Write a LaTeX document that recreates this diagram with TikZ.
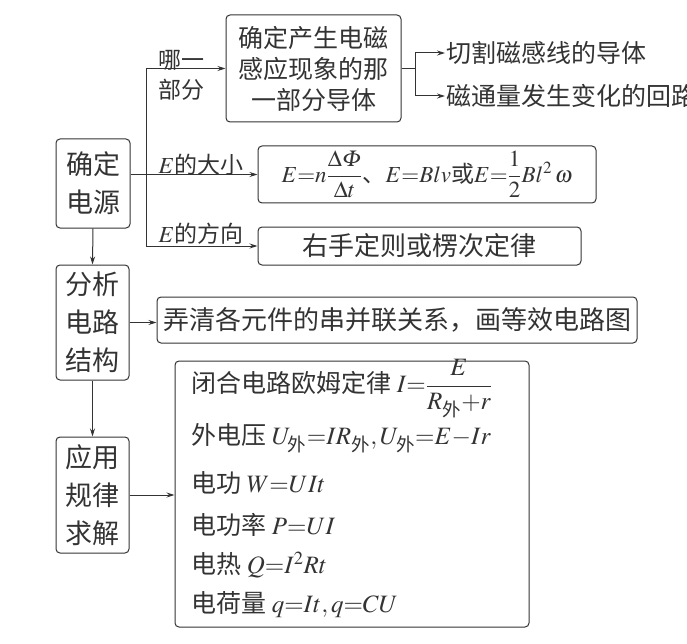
\documentclass[tikz,border=0pt]{standalone}
\usepackage{amsmath}
\usepackage{mathptmx}
\usepackage{fontspec}
\setmainfont{Noto Sans CJK SC}
\usetikzlibrary{arrows.meta, positioning, calc}
\colorlet{ink}{black!80}
\newcommand{\colfont}{\fontsize{27}{38}\selectfont}
\newcommand{\boxfont}{\fontsize{25}{31}\selectfont}
\newcommand{\widefont}{\fontsize{26}{31}\selectfont}
\newcommand{\lblfont}{\fontsize{23}{30}\selectfont}
\tikzset{
  box/.style={draw=ink, rounded corners=4pt, line width=1pt, inner sep=0pt, align=center, text=ink},
  lbl/.style={inner sep=0pt, text=ink, font=\lblfont, align=center},
  txt/.style={inner xsep=1pt, inner ysep=0pt, text=ink, font=\boxfont, anchor=west},
  line/.style={draw=ink, line width=1pt},
  arr/.style={line, -{Stealth[length=8pt,width=5pt]}},
  arrs/.style={line, {Stealth[length=8pt,width=5pt]}-{Stealth[length=8pt,width=5pt]}},
}

\begin{document}
\begin{tikzpicture}[x=1pt, y=-1pt]
  \useasboundingbox (0,0) rectangle (687,644);

  % left column
  \node[box, minimum width=74pt, minimum height=89pt, font=\colfont] (src) at (93,183.5) {确定\\电源};
  \node[box, minimum width=73pt, minimum height=115pt, font=\colfont] (ana) at (92.5,322.5) {分析\\电路\\结构};
  \node[box, minimum width=73pt, minimum height=116pt, font=\colfont] (app) at (92.5,495) {应用\\规律\\求解};

  % source branch
  \node[box, minimum width=175pt, minimum height=107pt, font=\boxfont] (part) at (313.5,68.5)
    {确定产生电磁\\感应现象的那\\一部分导体};
  \node[box, minimum width=338pt, minimum height=57pt, font=\fontsize{23}{28}\selectfont] (mag) at (427,174.5)
    {$E{=}n\dfrac{\Delta\varPhi}{\Delta t}$、$E{=}Blv$或$E{=}\dfrac{1}{2}Bl^2\,\omega$};
  \node[box, minimum width=323pt, minimum height=38pt, font=\widefont] (dir) at (419.5,246) {右手定则或楞次定律};

  \coordinate (jn) at (146,0);
  \coordinate (br) at (415,0);

  \node[lbl] (which) at (181,75) {哪一\\部分};
  \node[lbl] (size) at (201,165) {$E$的大小};
  \node[lbl] (way) at (201,234) {$E$的方向};

  \node[txt] (cut) at (445,53) {切割磁感线的导体};
  \node[txt] (loop) at (445,96) {磁通量发生变化的回路};

  % circuit and laws
  \node[box, minimum width=480pt, minimum height=46pt, font=\widefont] (eq) at (397,320)
    {弄清各元件的串并联关系，画等效电路图};
  \node[box, minimum width=354pt, minimum height=266pt] (laws) at (352,494) {};

  \node[txt] (l1) at (190,389) {闭合电路欧姆定律 $I{=}\dfrac{E}{R_{\text{外}}{+}r}$};
  \node[txt] (l2) at (190,438) {外电压 $U_{\text{外}}{=}IR_{\text{外}},U_{\text{外}}{=}E{-}Ir$};
  \node[txt] (l3) at (190,483) {电功 $W{=}UIt$};
  \node[txt] (l4) at (190,525) {电功率 $P{=}UI$};
  \node[txt] (l5) at (190,565) {电热 $Q{=}I^2Rt$};
  \node[txt] (l6) at (190,605) {电荷量 $q{=}It,q{=}CU$};

  % connectors
  \draw[arr] (src.east |- mag.west) -- (mag.west);
  \draw[arrs] (part.west) -- (jn |- part.west) -- (jn |- dir.west) -- (dir.west);
  \draw[line] (part.east) -- (br |- part.east);
  \draw[arrs] (cut.west) -- (br |- cut.west) -- (br |- loop.west) -- (loop.west);
  \draw[arr] (src.south) -- (ana.north);
  \draw[arr] (ana.south) -- (app.north);
  \draw[arr] (ana.east) -- (ana.east -| eq.west);
  \draw[arr] (app.east) -- (app.east -| laws.west);

\end{tikzpicture}
\end{document}
